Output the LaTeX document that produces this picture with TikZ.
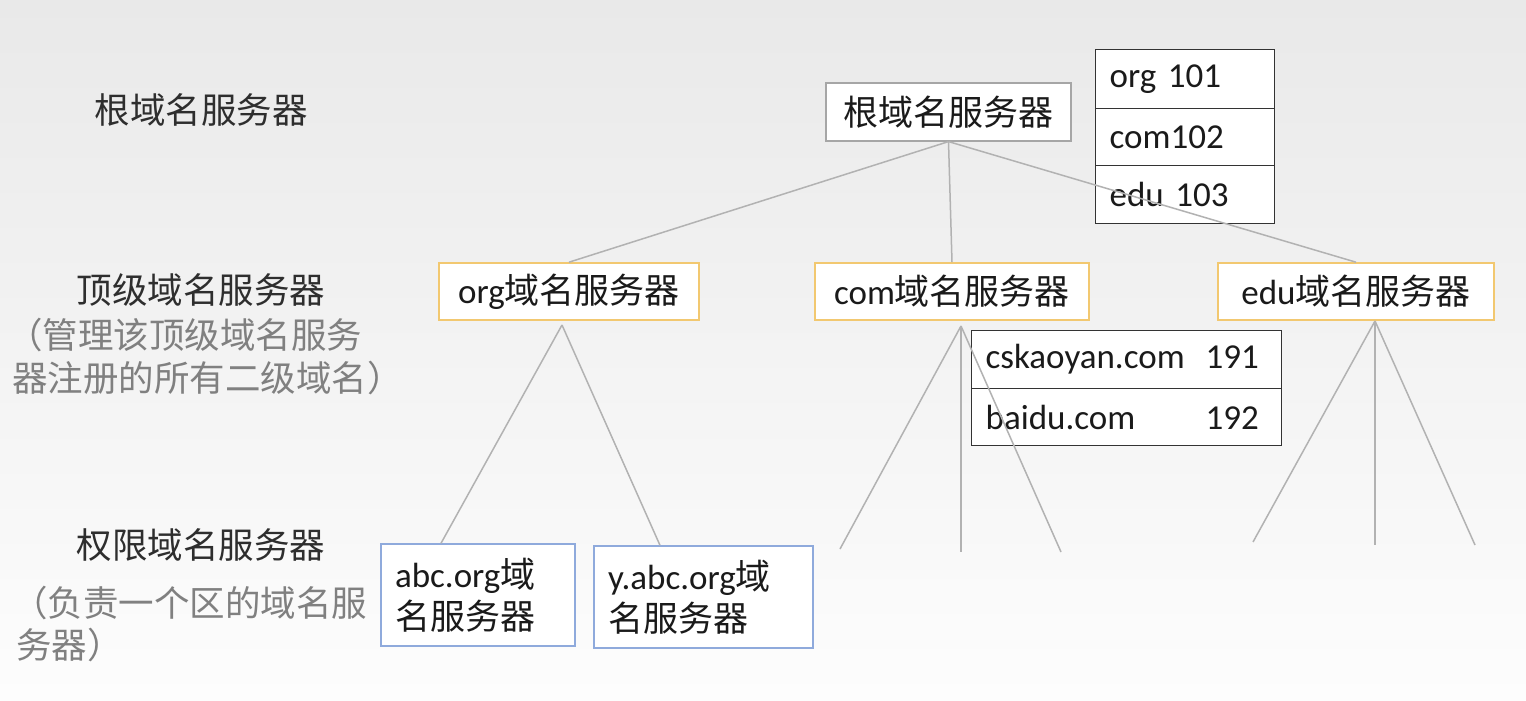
\documentclass[tikz,border=0pt]{standalone}
\usepackage{fontspec}
\setmainfont{Carlito}
\newfontfamily\cjk{Noto Sans CJK SC}
\definecolor{bgtop}{HTML}{E9E9E9}
\definecolor{bgbot}{HTML}{FDFDFD}
\definecolor{linegray}{HTML}{B2B2B2}
\definecolor{orangeb}{HTML}{F2C870}
\definecolor{blueb}{HTML}{8FAADC}
\definecolor{rootb}{HTML}{A6A6A6}
\definecolor{labeltext}{HTML}{2E2E2E}
\definecolor{subtext}{HTML}{808080}
\definecolor{boxtext}{HTML}{1A1A1A}
\begin{document}
\begin{tikzpicture}[x=1pt,y=-1pt,
  base/.style={font=\fontsize{35}{42}\selectfont, text=boxtext, inner sep=0pt},
  rootbox/.style={base, draw=rootb, line width=1.2pt, fill=white, minimum width=245pt, minimum height=58pt},
  tlbox/.style={base, draw=orangeb, line width=1.6pt, fill=white, minimum height=57pt},
  authbox/.style={base, draw=blueb, line width=1.4pt, fill=white, align=left, inner xsep=14pt, minimum height=102pt},
  rowbox/.style={base, draw=black!80, line width=1.3pt, fill=white, anchor=north west, align=left, inner xsep=14pt},
  conn/.style={draw=linegray, line width=1.5pt},
  lbl/.style={font=\fontsize{35.5}{42}\selectfont, text=labeltext, inner sep=0pt},
  sublbl/.style={font=\fontsize{35.5}{42}\selectfont, text=subtext, inner sep=0pt, anchor=west}
]
\useasboundingbox (0,0) rectangle (1526,701);
\shade[top color=bgtop, bottom color=bgbot] (0,0) rectangle (1526,701);

% left labels
\node[lbl] (l1) at (201,110) {\cjk 根域名服务器};
\node[lbl] (l2) at (201,290) {\cjk 顶级域名服务器};
\node[sublbl] (l2a) at (7,335) {\cjk （管理该顶级域名服务};
\node[sublbl] (l2b) at (12,378) {\cjk 器注册的所有二级域名）};
\node[lbl] (l3) at (201,545) {\cjk 权限域名服务器};
\node[sublbl] (l3a) at (12,603) {\cjk （负责一个区的域名服};
\node[sublbl] (l3b) at (16,645) {\cjk 务器）};

% root
\node[rootbox] (root) at (948.5,112) {\cjk 根域名服务器};
% root table
\node[rowbox, text width=151pt, minimum height=59pt] (t1) at (1095,49) {org 101};
\node[rowbox, text width=151pt, minimum height=57pt] (t2) at (1095,108) {com102};
\node[rowbox, text width=151pt, minimum height=58pt] (t3) at (1095,165) {edu 103};

% top-level
\node[tlbox, minimum width=260pt] (org) at (569,291.5) {org{\cjk 域名服务器}};
\node[tlbox, minimum width=274pt] (com) at (952,291.5) {com{\cjk 域名服务器}};
\node[tlbox, minimum width=276pt] (edu) at (1356,291.5) {edu{\cjk 域名服务器}};

% com table
\node[rowbox, text width=282pt, minimum height=58pt] (c1) at (971,330) {\makebox[220pt][l]{cskaoyan.com}191};
\node[rowbox, text width=282pt, minimum height=57pt] (c2) at (971,388) {\makebox[220pt][l]{baidu.com}192};

% authoritative
\node[authbox, text width=166pt] (abc) at (478,595) {abc.org{\cjk 域}\\{\cjk 名服务器}};
\node[authbox, text width=191pt] (yabc) at (703.5,597) {y.abc.org{\cjk 域}\\{\cjk 名服务器}};

% apex and leaf coordinates
\coordinate (orgapex) at (562,325);
\coordinate (comapex) at (961,326);
\coordinate (eduapex) at (1375,321);
\coordinate (cl1) at (840,549);
\coordinate (cl2) at (961,552);
\coordinate (cl3) at (1061,552);
\coordinate (el1) at (1253,542);
\coordinate (el2) at (1375,545);
\coordinate (el3) at (1475,545);

% connectors
\draw[conn] (root.south) -- (org.north);
\draw[conn] (root.south) -- (com.north);
\draw[conn] (root.south) -- (edu.north);
\draw[conn] (orgapex) -- ([xshift=-37pt]abc.north);
\draw[conn] (orgapex) -- ([xshift=-43.5pt]yabc.north);
\draw[conn] (comapex) -- (cl1);
\draw[conn] (comapex) -- (cl2);
\draw[conn] (comapex) -- (cl3);
\draw[conn] (eduapex) -- (el1);
\draw[conn] (eduapex) -- (el2);
\draw[conn] (eduapex) -- (el3);
\end{tikzpicture}
\end{document}
